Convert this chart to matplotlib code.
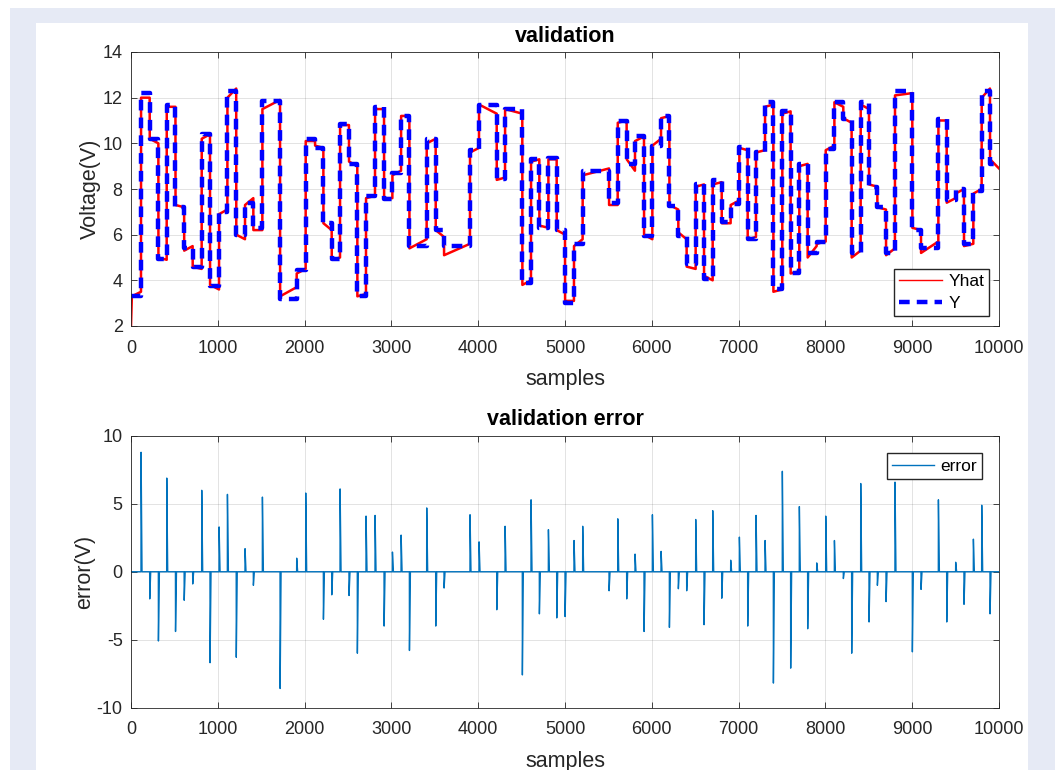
import numpy as np
import matplotlib
matplotlib.use('Agg')
import matplotlib.pyplot as plt
from matplotlib.patches import Rectangle

plt.rcParams['font.family'] = ['Liberation Sans', 'DejaVu Sans']
plt.rcParams['axes.unicode_minus'] = False

# Y: piecewise levels, sample where each level starts
step_t = [0, 115, 215, 315, 411, 512, 612, 710, 814, 910,
          1014, 1110, 1212, 1313, 1409, 1513, 1717, 1908, 2012, 2120,
          2216, 2312, 2408, 2511, 2607, 2707, 2811, 2915, 3011, 3111,
          3207, 3406, 3510, 3606, 3905, 4009, 4213, 4309, 4508, 4608,
          4704, 4808, 4904, 5000, 5103, 5203, 5507, 5607, 5710, 5806,
          5910, 6006, 6106, 6202, 6305, 6401, 6505, 6601, 6701, 6805,
          6908, 7008, 7104, 7200, 7304, 7400, 7503, 7599, 7699, 7795,
          7899, 8003, 8103, 8206, 8302, 8406, 8502, 8598, 8698, 8801,
          9001, 9101, 9301, 9397, 9500, 9596, 9704, 9800, 9896]
y_lev = [3.3, 12.2, 10.2, 4.95, 11.7, 7.2, 5.4, 4.6, 10.4, 3.75,
         7.0, 12.3, 6.0, 7.4, 6.3, 11.85, 3.2, 4.45, 10.2, 9.8,
         6.5, 4.95, 10.85, 9.1, 3.3, 7.7, 11.6, 7.55, 8.7, 11.2,
         5.5, 10.2, 6.2, 5.5, 9.7, 11.7, 8.45, 11.5, 3.9, 9.3,
         6.3, 9.35, 6.2, 3.0, 5.6, 8.8, 7.4, 11.0, 9.1, 10.3,
         5.95, 9.9, 11.2, 7.25, 5.95, 4.7, 8.2, 4.05, 8.4, 6.55,
         7.35, 9.85, 5.8, 9.6, 11.8, 3.6, 11.4, 4.3, 9.1, 5.2,
         5.7, 9.75, 11.8, 11.05, 5.2, 11.8, 8.1, 7.2, 5.2, 12.3,
         6.2, 5.4, 11.05, 7.5, 8.0, 5.6, 7.9, 12.3, 9.1]
n_samples = 10000

# Yhat: value at the start and at the end of each level
yhat_a = [3.3, 12.0, 10.2, 5.0, 11.6, 7.3, 5.3, 4.6, 10.2, 3.8,
          6.9, 12.0, 6.0, 7.3, 6.2, 11.5, 3.3, 4.3, 10.1, 9.9,
          6.5, 4.9, 10.8, 9.2, 3.3, 7.6, 11.5, 7.6, 8.6, 11.2,
          5.4, 10.0, 6.2, 5.1, 9.6, 11.7, 8.4, 11.5, 3.8, 9.2,
          6.4, 9.3, 6.2, 3.1, 5.5, 8.6, 7.3, 10.9, 9.3, 10.1,
          6.0, 9.9, 11.1, 7.3, 6.1, 4.6, 8.1, 4.2, 8.2, 6.5,
          7.3, 9.8, 5.8, 9.6, 11.6, 3.5, 11.3, 4.3, 9.0, 5.0,
          5.6, 9.7, 11.8, 11.1, 5.0, 11.7, 8.2, 7.2, 5.1, 12.1,
          6.3, 5.2, 11.0, 7.4, 7.8, 5.5, 7.8, 12.0, 9.3]
yhat_b = [3.5, 12.0, 10.0, 4.9, 11.6, 7.2, 5.5, 4.5, 10.4, 3.6,
          7.1, 12.4, 5.8, 7.6, 6.2, 11.9, 3.7, 4.5, 10.1, 9.8,
          6.2, 5.0, 10.8, 9.0, 3.4, 7.7, 11.5, 7.6, 8.8, 11.2,
          5.8, 10.2, 5.9, 5.6, 9.8, 11.3, 8.5, 11.3, 4.0, 9.3,
          6.3, 9.3, 6.0, 3.1, 5.8, 8.9, 7.3, 11.0, 8.8, 10.3,
          5.8, 10.2, 11.2, 7.1, 5.8, 4.5, 8.2, 4.0, 8.3, 6.5,
          7.5, 9.7, 5.9, 9.7, 11.7, 3.6, 11.4, 4.4, 9.1, 5.5,
          5.7, 9.9, 11.6, 10.9, 5.3, 11.5, 8.1, 7.1, 5.4, 12.2,
          6.2, 5.7, 11.0, 7.6, 8.0, 5.6, 8.0, 12.4, 8.9]
yhat0_t = [0, 10]
yhat0_v = [2.0, 3.3]

# error spikes
err_t = [115, 215, 315, 411, 512, 612, 710, 814, 910, 1014,
         1110, 1212, 1313, 1409, 1513, 1717, 1908, 2012, 2216, 2312,
         2408, 2511, 2607, 2707, 2811, 2915, 3011, 3111, 3207, 3406,
         3510, 3606, 3905, 4009, 4213, 4309, 4508, 4608, 4704, 4808,
         4904, 5000, 5103, 5203, 5507, 5607, 5710, 5806, 5910, 6006,
         6106, 6202, 6305, 6401, 6505, 6601, 6701, 6805, 6908, 7008,
         7104, 7200, 7304, 7400, 7503, 7599, 7699, 7795, 7899, 8003,
         8103, 8206, 8302, 8406, 8502, 8598, 8698, 8801, 9001, 9101,
         9301, 9397, 9500, 9596, 9704, 9800, 9896]
err_v = [8.8, -2.0, -5.1, 6.9, -4.4, -2.1, -0.9, 6.0, -6.7, 3.3,
         5.7, -6.3, 1.7, -1.0, 5.5, -8.6, 1.0, 5.8, -3.5, -1.7,
         6.1, -1.75, -6.0, 4.1, 4.15, -4.0, 1.45, 2.7, -5.8, 4.7,
         -4.0, -1.2, 4.2, 2.2, -2.8, 3.35, -7.6, 5.3, -3.1, 3.1,
         -3.4, -3.3, 2.3, 3.35, -1.4, 3.9, -2.0, 1.3, -4.4, 4.2,
         1.5, -4.1, -1.25, -1.4, 3.85, -3.9, 4.5, -1.95, 0.85, 2.55,
         -4.0, 4.15, 2.3, -8.2, 7.4, -7.1, 4.8, -4.2, 0.65, 4.1,
         2.3, -0.5, -6.0, 6.5, -3.7, -1.0, -2.2, 6.6, -5.9, -1.3,
         5.3, -3.7, 0.7, -2.4, 2.4, 4.9, -3.1]

# build line vertices from the lists
y_x = step_t + [n_samples]
y_y = y_lev + [y_lev[-1]]

hx = list(yhat0_t)
hy = list(yhat0_v)
ends = step_t[1:] + [n_samples]
for i in range(len(step_t)):
    if i > 0:
        hx.append(step_t[i] + 1)
        hy.append(yhat_a[i])
    hx.append(ends[i])
    hy.append(yhat_b[i])

ex = [0]
ey = [0.0]
for t, v in zip(err_t, err_v):
    ex += [t, t + 1, t + 12]
    ey += [0.0, v, 0.0]
ex.append(n_samples)
ey.append(0.0)

fig = plt.figure(figsize=(10.6, 7.7), dpi=100)
fig.patch.set_facecolor('white')
fig.patches.append(Rectangle((10/1060, 0), 1045/1060, 762/770, transform=fig.transFigure,
                             facecolor='#e6eaf5', edgecolor='none', zorder=-2))
fig.patches.append(Rectangle((36/1060, 0), 992/1060, 747/770, transform=fig.transFigure,
                             facecolor='white', edgecolor='none', zorder=-1))

ax1 = fig.add_axes([131/1060, 1 - 326/770, 868/1060, 274/770])
ax2 = fig.add_axes([131/1060, 1 - 707.5/770, 868/1060, 271.5/770])

ax1.plot(hx, hy, color='red', lw=1.8, label='Yhat')
ax1.step(y_x, y_y, where='post', color='blue', lw=3.2, dashes=(2.4, 1.6), label='Y')
ax1.set_ylim(2, 14)
ax1.set_yticks(np.arange(2, 15, 2))
ax1.set_title('validation', fontsize=15.5, fontweight='bold', pad=7)
ax1.set_ylabel('Voltage(V)', fontsize=15.5, color='#262626', labelpad=1)
leg1 = ax1.legend(loc='lower right', fontsize=12.5, fancybox=False, edgecolor='#262626',
                  framealpha=1, handlelength=2.5, borderaxespad=0.55, borderpad=0.3,
                  labelspacing=0.4, handletextpad=0.35)
leg1.get_lines()[0].set_linewidth(1.0)

ax2.plot(ex, ey, color='#0072BD', lw=1.0, label='error')
ax2.set_ylim(-10, 10)
ax2.set_yticks([-10, -5, 0, 5, 10])
ax2.set_title('validation error', fontsize=15.5, fontweight='bold', pad=8)
ax2.set_ylabel('error(V)', fontsize=15.5, color='#262626', labelpad=1)
ax2.legend(loc='upper right', fontsize=12.5, fancybox=False, edgecolor='#262626',
           framealpha=1, handlelength=2.4, borderaxespad=1.0, borderpad=0.3,
           handletextpad=0.35)

for ax in (ax1, ax2):
    ax.set_xlim(0, n_samples)
    ax.set_xticks(np.arange(0, 10001, 1000))
    ax.set_xlabel('samples', fontsize=15.5, color='#262626', labelpad=9)
    ax.grid(True, color='#262626', alpha=0.15, lw=0.6)
    ax.tick_params(direction='in', top=True, right=True, labelsize=13,
                   colors='#262626', length=4, width=0.6)
    ax.tick_params(axis='x', pad=10)
    ax.tick_params(axis='y', pad=6)
    for s in ax.spines.values():
        s.set_color('#262626')
        s.set_linewidth(0.6)

fig.savefig('out.png', dpi=100, facecolor='white')
